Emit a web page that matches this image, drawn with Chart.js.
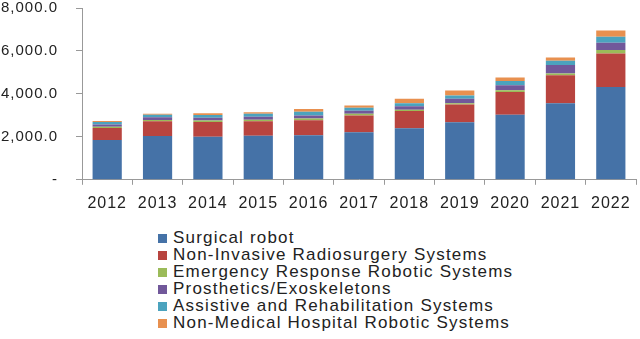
<!DOCTYPE html>
<html>
<head>
<meta charset="utf-8">
<script src="https://cdn.jsdelivr.net/npm/chart.js@4.4.0/dist/chart.umd.min.js"></script>
<style>
  html, body { margin: 0; padding: 0; background: #fff; }
  #wrap { position: relative; width: 640px; height: 339px; overflow: hidden; }
  #c { position: absolute; left: 0; top: 0; }
  #legend { position: absolute; left: 158px; top: 229px; font-family: "Liberation Sans", Arial, sans-serif; font-size: 17px; color: #222; letter-spacing: 1.2px; }
  .item { height: 17px; line-height: 17px; white-space: nowrap; }
  .sw { display: inline-block; width: 9px; height: 9px; margin-right: 6px; vertical-align: 0px; }
</style>
</head>
<body>
<div id="wrap">
  <canvas id="c" width="640" height="222"></canvas>
  <div id="legend"></div>
</div>
<script>
const years = ["2012","2013","2014","2015","2016","2017","2018","2019","2020","2021","2022"];
const seriesNames = ["Surgical robot","Non-Invasive Radiosurgery Systems","Emergency Response Robotic Systems","Prosthetics/Exoskeletons","Assistive and Rehabilitation Systems","Non-Medical Hospital Robotic Systems"];
const surgical    = [1850, 2040, 2010, 2050, 2070, 2210, 2400, 2680, 3025, 3570, 4320];
const radiosurgery= [ 560,  690,  680,  680,  700,  780,  800,  830, 1060, 1300, 1560];
const emergency   = [  60,   60,   70,   70,   80,   80,   60,   60,   80,   80,  160];
const prosthetics = [ 110,  120,  130,  140,  150,  150,  160,  200,  235,  390,  340];
const assistive   = [ 110,  120,  130,  140,  170,  130,  150,  160,  200,  200,  280];
const nonMedical  = [  50,   50,   80,   70,  130,  110,  200,  230,  160,  160,  290];
const yTicks = [0, 2000, 4000, 6000, 8000];
const colors = ["#4572A7","#B8443F","#9BBB59","#71589A","#4BA3BE","#E8904F"];

const values = [surgical, radiosurgery, emergency, prosthetics, assistive, nonMedical];
const datasets = values.map((v, i) => ({
  label: seriesNames[i], data: v, backgroundColor: colors[i],
  borderWidth: 0, barPercentage: 0.58, categoryPercentage: 1.0
}));

const spacing = {
  id: 'spacing',
  beforeDraw(chart) { chart.ctx.letterSpacing = '1px'; }
};

new Chart(document.getElementById('c'), {
  type: 'bar',
  data: { labels: years, datasets },
  plugins: [spacing],
  options: {
    responsive: false, animation: false,
    layout: { padding: { top: 8, right: 4, left: 0, bottom: 0 } },
    plugins: { legend: { display: false }, tooltip: { enabled: false } },
    scales: {
      x: {
        stacked: true,
        grid: { display: true, drawOnChartArea: false, drawTicks: true, tickLength: 5, color: '#999', offset: true },
        border: { display: true, color: '#999', width: 1 },
        ticks: { color: '#222', font: { family: 'Liberation Sans', size: 16 }, padding: 9, maxRotation: 0 },
        afterFit(s) { s.paddingLeft = 0; s.paddingRight = 0; }
      },
      y: {
        stacked: true, min: 0, max: 8000,
        afterFit(s) { s.width = 82; s.paddingTop = 0; s.paddingBottom = 0; },
        afterBuildTicks(s) { s.ticks = yTicks.map(v => ({ value: v })); },
        grid: { display: true, drawOnChartArea: false, drawTicks: true, tickLength: 6, color: '#999' },
        border: { display: true, color: '#999', width: 1 },
        ticks: {
          color: '#222', font: { family: 'Liberation Sans', size: 15 }, padding: 18,
          callback: v => v === 0 ? '-' : v.toLocaleString('en-US', { minimumFractionDigits: 1, maximumFractionDigits: 1 })
        }
      }
    }
  }
});

const lg = document.getElementById('legend');
seriesNames.forEach((n, i) => {
  const d = document.createElement('div');
  d.className = 'item';
  const s = document.createElement('span');
  s.className = 'sw'; s.style.background = colors[i];
  d.appendChild(s);
  d.appendChild(document.createTextNode(n));
  lg.appendChild(d);
});
</script>
</body>
</html>
